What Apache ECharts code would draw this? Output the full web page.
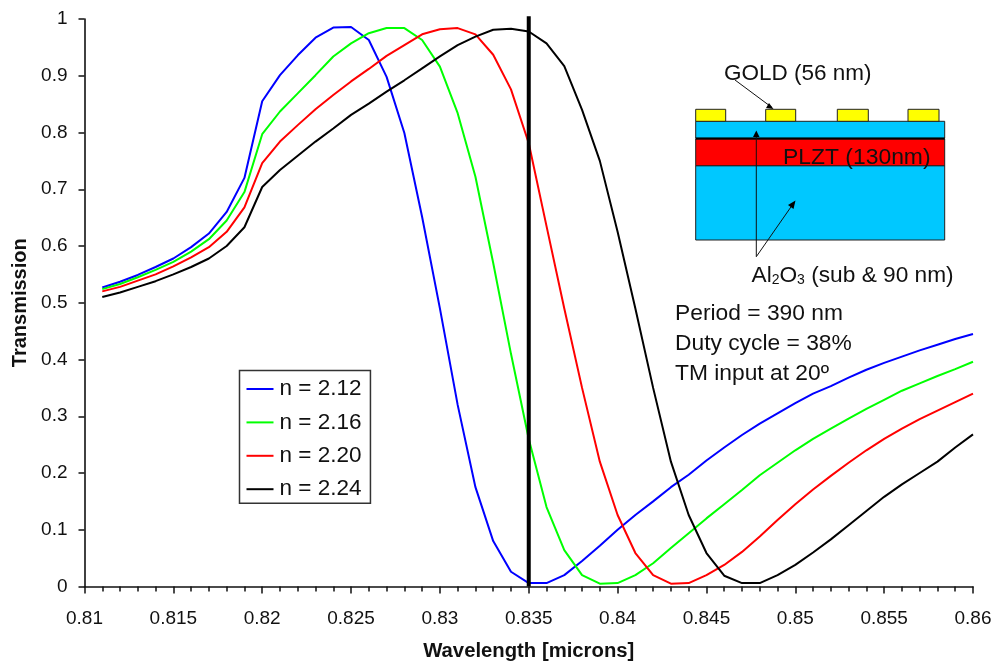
<!DOCTYPE html>
<html><head><meta charset="utf-8">
<style>html,body{margin:0;padding:0;background:#fff}#c{width:995px;height:664px}</style>
<script src="https://cdn.jsdelivr.net/npm/echarts@6/dist/echarts.min.js"></script>
</head><body><div id="c"></div>
<script>
const wavelengths=[.811,.812,.813,.814,.815,.816,.817,.818,.819,.82,.821,.822,.823,.824,.825,.826,.827,.828,.829,.83,.831,.832,.833,.834,.835,.836,.837,.838,.839,.84,.841,.842,.843,.844,.845,.846,.847,.848,.849,.85,.851,.852,.853,.854,.855,.856,.857,.858,.859,.86];
const n212=[.527,.537,.549,.563,.578,.598,.622,.66,.72,.855,.901,.936,.967,.985,.986,.963,.898,.799,.651,.49,.32,.175,.08,.026,.006,.006,.02,.045,.072,.10,.126,.15,.175,.197,.222,.245,.267,.287,.305,.323,.34,.353,.368,.382,.394,.405,.416,.426,.436,.445];
const n216=[.524,.533,.545,.558,.572,.59,.612,.645,.695,.797,.837,.869,.901,.934,.957,.975,.984,.984,.963,.916,.834,.722,.57,.41,.26,.14,.064,.02,.005,.006,.02,.041,.068,.094,.12,.145,.17,.196,.218,.24,.26,.278,.296,.313,.329,.345,.358,.371,.383,.396];
const n220=[.52,.528,.539,.55,.564,.58,.598,.625,.668,.746,.784,.813,.841,.866,.89,.912,.935,.954,.973,.982,.984,.973,.937,.876,.781,.635,.49,.35,.22,.126,.059,.02,.005,.006,.02,.038,.061,.088,.117,.145,.171,.195,.218,.24,.26,.278,.295,.31,.325,.34];
const n224=[.51,.518,.528,.538,.55,.563,.578,.6,.633,.704,.734,.759,.784,.807,.831,.851,.872,.892,.913,.934,.954,.969,.981,.983,.978,.957,.917,.84,.75,.625,.49,.35,.22,.126,.059,.019,.006,.006,.02,.038,.06,.083,.108,.133,.158,.18,.2,.22,.245,.268];
const marker=[[.835,0],[.835,1.005]];
const seriesNames=['n = 2.12','n = 2.16','n = 2.20','n = 2.24'];
const seriesValues=[n212,n216,n220,n224];
const seriesColors=['#0000ff','#00ff00','#ff0000','#000000'];

const FONT='"Liberation Sans", Arial, sans-serif';
const chart=echarts.init(document.getElementById('c'),null,{renderer:'canvas'});
const txt=(x,y,text,size)=>({type:'text',x,y,z:20,style:{text,fill:'#111',font:`${size}px ${FONT}`,textVerticalAlign:'bottom'}});
const ln=(x1,y1,x2,y2)=>({type:'line',z:18,shape:{x1,y1,x2,y2},style:{stroke:'#111',lineWidth:1}});
const head=(pts)=>({type:'polygon',z:18,shape:{points:pts},style:{fill:'#000'}});
const rect=(x,y,w,h,fill)=>({type:'rect',z:15,shape:{x,y,width:w,height:h},style:{fill,stroke:'#222',lineWidth:1}});
chart.setOption({
  animation:false,
  backgroundColor:'#fff',
  textStyle:{fontFamily:FONT},
  grid:{left:84.5,right:22,top:19,bottom:77.5,containLabel:false,outerBoundsMode:'none'},
  legend:{
    data:seriesNames,orient:'vertical',left:239.5,top:370.5,icon:'rect',
    padding:[7,9,2.5,7],itemWidth:27,itemHeight:2,itemGap:10.4,
    borderColor:'#333',borderWidth:1.5,backgroundColor:'#fff',selectedMode:false,
    textStyle:{fontSize:22.5,color:'#111',fontFamily:FONT,padding:[0,0,0,1]}
  },
  xAxis:{
    type:'value',min:.81,max:.86,interval:.005,
    name:'Wavelength [microns]',nameLocation:'middle',nameGap:55,
    nameTextStyle:{fontSize:20.3,fontWeight:'bold',color:'#111',fontFamily:FONT},
    axisLine:{lineStyle:{color:'#111',width:1.6}},
    axisTick:{show:true,length:7,inside:false,lineStyle:{color:'#111',width:1.5}},
    minorTick:{show:true,splitNumber:5,length:5,lineStyle:{color:'#111',width:1.5}},
    splitLine:{show:false},
    axisLabel:{fontSize:19,color:'#111',margin:23,showMaxLabel:true,showMinLabel:true,
      formatter:v=>String(+(+v).toFixed(3)),fontFamily:FONT}
  },
  yAxis:{
    type:'value',min:0,max:1,interval:.1,
    name:'Transmission',nameLocation:'middle',nameGap:53,
    nameTextStyle:{fontSize:20,fontWeight:'bold',color:'#111',fontFamily:FONT},
    axisLine:{show:true,lineStyle:{color:'#111',width:1.6}},
    axisTick:{show:true,length:6,lineStyle:{color:'#111',width:1.5}},
    splitLine:{show:false},
    axisLabel:{fontSize:19,color:'#111',margin:17,
      formatter:v=>String(+(+v).toFixed(1)),fontFamily:FONT}
  },
  series:[
    ...seriesNames.map((name,i)=>({
      name,type:'line',showSymbol:false,symbol:'none',smooth:false,clip:false,z:5+i,
      data:wavelengths.map((x,k)=>[x,seriesValues[i][k]]),
      lineStyle:{color:seriesColors[i],width:2},itemStyle:{color:seriesColors[i]}
    })),
    {name:'marker',type:'line',symbol:'none',clip:false,z:12,data:marker,lineStyle:{color:'#000',width:4}}
  ],
  graphic:[
    rect(695.7,165.7,249,74.3,'#00c8ff'),
    rect(695.7,139,249,26.7,'#ff0000'),
    rect(695.7,121.3,249,17,'#00c8ff'),
    {type:'line',z:16,shape:{x1:695.7,y1:138.6,x2:944.7,y2:138.6},style:{stroke:'#000',lineWidth:2}},
    rect(695.7,109.3,30,12,'#ffff00'),
    rect(765.7,109.3,30,12,'#ffff00'),
    rect(837.3,109.3,31,12,'#ffff00'),
    rect(908,109.3,31,12,'#ffff00'),
    ln(735,80,772,107.5),head([[773.5,109],[769,103],[766,108]]),
    ln(756.3,256.7,756.3,134),head([[756.3,130.5],[753,137],[759.5,137]]),
    ln(756.3,256.7,793,204),head([[795.5,200.5],[788,205],[793.5,209]]),
    txt(724,85.5,'GOLD (56 nm)',22.5),
    txt(783,169,'PLZT (130nm)',22.9),
    {type:'text',x:751.5,y:287,z:20,style:{
      text:'{a|Al}{s|2}{a|O}{s|3}{a| (sub & 90 nm)}',
      textVerticalAlign:'bottom',
      rich:{a:{font:`22.7px ${FONT}`,fill:'#111',verticalAlign:'bottom'},s:{font:`14px ${FONT}`,fill:'#111',verticalAlign:'bottom'}}
    }},
    txt(675,325,'Period = 390 nm',22.8),
    txt(675,355.5,'Duty cycle = 38%',22.8),
    txt(675,385,'TM input at 20º',22.8)
  ]
});
</script></body></html>
